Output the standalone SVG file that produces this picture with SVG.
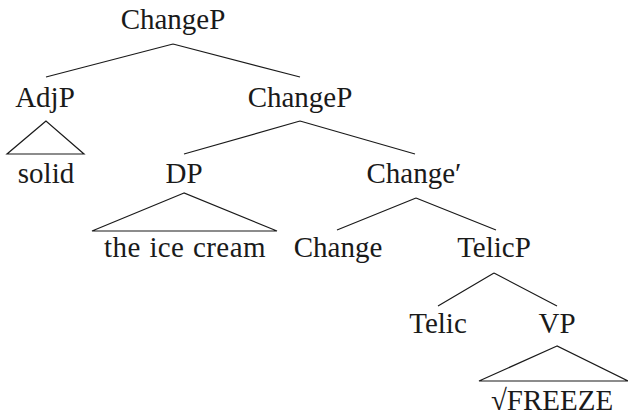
<svg xmlns="http://www.w3.org/2000/svg" width="628" height="419" viewBox="0 0 628 419">
  <style>
    text { font-family: "Liberation Serif", "Times New Roman", serif; font-size: 29px; fill: #1a1a1a; text-anchor: middle; }
    .wide { letter-spacing: 0.4px; word-spacing: 1px; }
    .edge { stroke: #1a1a1a; stroke-width: 1.2; fill: none; }
  </style>
  <rect width="628" height="419" fill="#ffffff"/>

  <!-- branches and roof triangles -->
  <g id="connectors">
    <path class="edge" d="M173,44 L46,77 M173,44 L300,77"/>
    <path class="edge" d="M46,121 L7,154 L84,154 Z"/>
    <path class="edge" d="M300,121 L184,154 M300,121 L415,154"/>
    <path class="edge" d="M184,193 L92,231 L277,231 Z"/>
    <path class="edge" d="M416,198 L337,230 M416,198 L496,230"/>
    <path class="edge" d="M494,273 L438,306 M494,273 L557,306"/>
    <path class="edge" d="M557,346 L479,381 L628,381 Z"/>
  </g>

  <g id="changeP-root"><text x="173" y="29">ChangeP</text></g>
  <g id="adjP"><text x="45" y="107">AdjP</text></g>
  <g id="changeP"><text x="300" y="107">ChangeP</text></g>
  <g id="solid"><text x="46" y="183">solid</text></g>
  <g id="dp"><text x="184" y="183">DP</text></g>
  <g id="change-bar"><text x="414" y="183">Change′</text></g>
  <g id="ice-cream"><text class="wide" x="185" y="257">the ice cream</text></g>
  <g id="change"><text x="338" y="257">Change</text></g>
  <g id="telicP"><text x="494" y="257">TelicP</text></g>
  <g id="telic"><text x="438" y="333">Telic</text></g>
  <g id="vp"><text x="557" y="333">VP</text></g>
  <g id="freeze"><text x="552" y="410">√FREEZE</text></g>
</svg>
